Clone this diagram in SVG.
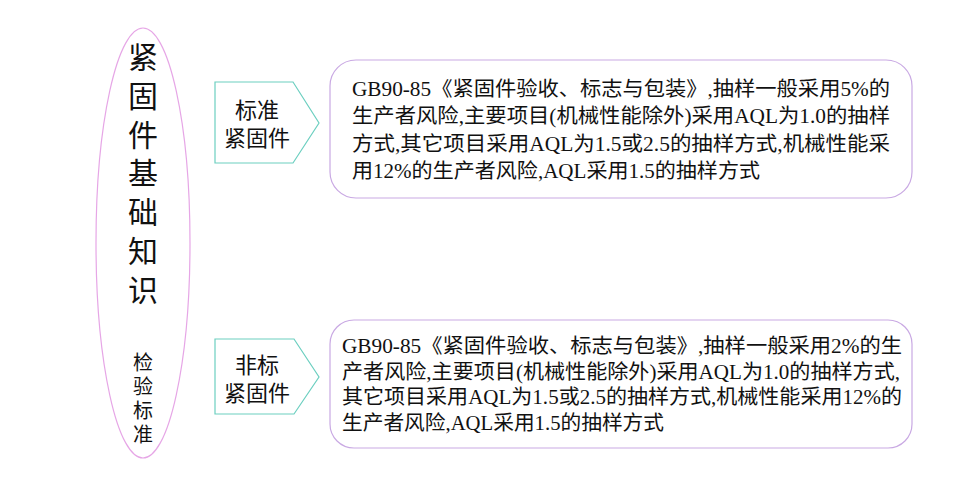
<svg xmlns="http://www.w3.org/2000/svg" width="960" height="495" viewBox="0 0 960 495">
<style>
.cjk{font-family:"Noto Sans CJK SC","Noto Sans",sans-serif;fill:#111}
.vert{writing-mode:vertical-rl;text-orientation:upright}
.lbl{font-size:22px;text-anchor:middle}
.body{font-family:"Liberation Serif","Noto Sans CJK SC",serif;font-size:20px;fill:#111}
.pent{fill:#fff;stroke:#6ccfc0;stroke-width:1.2}
.box{fill:#fff;stroke:#c9a9e3;stroke-width:1.2}
</style>
<rect width="960" height="495" fill="#fff"/>
<g id="root">
<ellipse cx="143" cy="243" rx="47" ry="215" fill="none" stroke="#e6a6e6" stroke-width="1.2"/>
<text class="cjk vert" font-size="30" letter-spacing="8.7" x="143" y="42">紧固件基础知识</text>
<text class="cjk vert" font-size="20" letter-spacing="4.3" x="143" y="352">检验标准</text>
</g>
<g id="std">
<polygon class="pent" points="215,82 293,82 319,123 293,163 215,163"/>
<text class="cjk lbl" x="257" y="118">标准<tspan x="257" dy="28">紧固件</tspan></text>
</g>
<g id="nonstd">
<polygon class="pent" points="215,339 294,339 319,377 294,414 215,414"/>
<text class="cjk lbl" x="257" y="373">非标<tspan x="257" dy="28">紧固件</tspan></text>
</g>
<g id="box1">
<rect class="box" x="330" y="60" width="582" height="138" rx="26"/>
<text class="body" x="352" y="96" textLength="538" lengthAdjust="spacingAndGlyphs">GB90-85《紧固件验收、标志与包装》,抽样一般采用5%的</text>
<text class="body" x="352" y="123" textLength="538" lengthAdjust="spacingAndGlyphs">生产者风险,主要项目(机械性能除外)采用AQL为1.0的抽样</text>
<text class="body" x="352" y="151" textLength="538" lengthAdjust="spacingAndGlyphs">方式,其它项目采用AQL为1.5或2.5的抽样方式,机械性能采</text>
<text class="body" x="352" y="178" textLength="408" lengthAdjust="spacingAndGlyphs">用12%的生产者风险,AQL采用1.5的抽样方式</text>
</g>
<g id="box2">
<rect class="box" x="330" y="320" width="582" height="128" rx="24"/>
<text class="body" x="342" y="353" textLength="560" lengthAdjust="spacingAndGlyphs">GB90-85《紧固件验收、标志与包装》,抽样一般采用2%的生</text>
<text class="body" x="342" y="379" textLength="558" lengthAdjust="spacingAndGlyphs">产者风险,主要项目(机械性能除外)采用AQL为1.0的抽样方式,</text>
<text class="body" x="342" y="404" textLength="560" lengthAdjust="spacingAndGlyphs">其它项目采用AQL为1.5或2.5的抽样方式,机械性能采用12%的</text>
<text class="body" x="342" y="430" textLength="322" lengthAdjust="spacingAndGlyphs">生产者风险,AQL采用1.5的抽样方式</text>
</g>
<g id="connectors"></g>
</svg>
